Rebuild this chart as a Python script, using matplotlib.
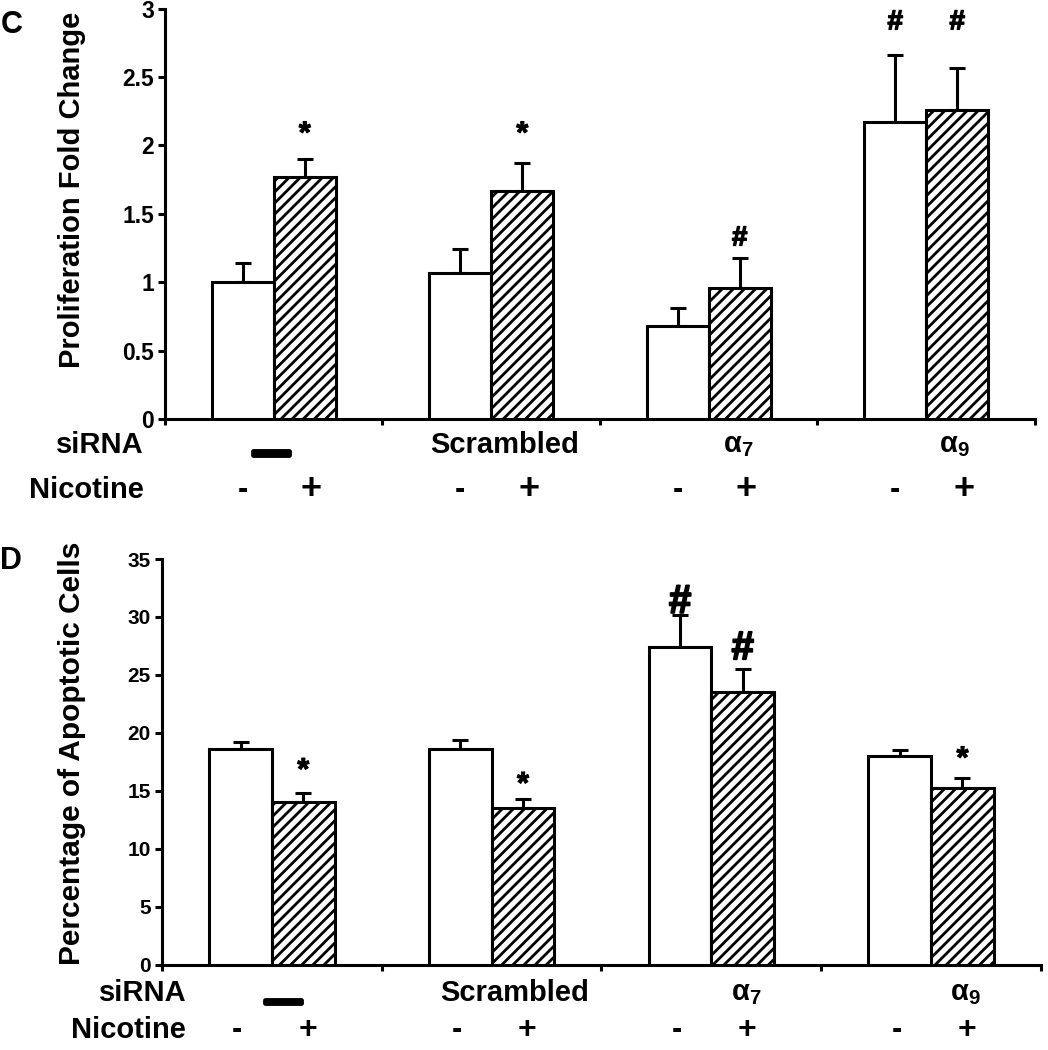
import matplotlib
matplotlib.use("Agg")
import matplotlib.pyplot as plt
import matplotlib.transforms as mtransforms
import matplotlib.patheffects as pe
import numpy as np

# --- Data ---
groups = ["\u2014", "Scrambled", r"$\mathbf{\alpha_7}$", r"$\mathbf{\alpha_9}$"]
nicotine = ["-", "+"]

prolif_ctrl = [1.00, 1.065, 0.68, 2.17]
prolif_ctrl_err = [0.14, 0.175, 0.13, 0.49]
prolif_nic = [1.77, 1.67, 0.955, 2.26]
prolif_nic_err = [0.13, 0.20, 0.225, 0.31]
prolif_marks_ctrl = ["", "", "", "#"]
prolif_marks_nic = ["*", "*", "#", "#"]
prolif_mark_y_ctrl = [None, None, None, 2.9]
prolif_mark_y_nic = [2.08, 2.08, 1.32, 2.9]

apop_ctrl = [18.6, 18.6, 27.4, 18.0]
apop_ctrl_err = [0.6, 0.8, 2.8, 0.5]
apop_nic = [14.0, 13.55, 23.5, 15.2]
apop_nic_err = [0.8, 0.75, 2.0, 0.9]
apop_marks_ctrl = ["", "", "#", ""]
apop_marks_nic = ["*", "*", "#", "*"]
apop_mark_y_ctrl = [None, None, 31.3, None]
apop_mark_y_nic = [16.7, 15.5, 27.3, 17.7]

FONT = ["Liberation Sans", "DejaVu Sans"]
plt.rcParams["font.family"] = FONT
plt.rcParams["font.weight"] = "bold"
plt.rcParams["mathtext.fontset"] = "custom"
plt.rcParams["mathtext.rm"] = "Liberation Sans:bold"
plt.rcParams["mathtext.bf"] = "Liberation Sans:bold"
plt.rcParams["mathtext.it"] = "Liberation Sans:bold"
plt.rcParams["hatch.linewidth"] = 2.0

LW = 2.2
BAR_W = 0.285


def draw_panel(ax, ctrl, ctrl_err, nic, nic_err, marks, mark_ys, ylim, yticks,
               ylabel, tick_size, lab_off, sign_off, row_y, row_x, mark_sizes,
               ylab_size, ylab_pos, plus_size):
    x = np.arange(len(ctrl)) + 0.5
    xc = x - BAR_W / 2
    xn = x + BAR_W / 2
    ax.bar(xc, ctrl, BAR_W, color="white", edgecolor="black", linewidth=LW, zorder=3)
    ax.bar(xn, nic, BAR_W, color="white", edgecolor="black", linewidth=LW,
           hatch="///", zorder=3)
    for xs, vals, errs in [(xc, ctrl, ctrl_err), (xn, nic, nic_err)]:
        ax.errorbar(xs, vals, yerr=[np.zeros(len(vals)), errs], fmt="none",
                    ecolor="black", elinewidth=LW, capsize=5.5, capthick=LW, zorder=2)

    # significance marks
    for xs, mk, my in [(xc, marks[0], mark_ys[0]), (xn, marks[1], mark_ys[1])]:
        for xi, m, yi in zip(xs, mk, my):
            if m:
                size, stroke = mark_sizes[m]
                ax.text(xi, yi, m, ha="center", va="center", fontsize=size,
                        fontweight="bold",
                        path_effects=[pe.withStroke(linewidth=stroke, foreground="black")])

    ax.set_xlim(0, 4)
    ax.set_ylim(*ylim)
    ax.set_yticks(yticks)
    ax.set_yticklabels([f"{t:g}" for t in yticks], fontsize=tick_size, fontweight="bold")
    ax.set_xticks(np.arange(5))
    ax.set_xticklabels([])
    ax.set_ylabel(ylabel, fontsize=ylab_size, fontweight="bold")
    ax.yaxis.set_label_coords(*ylab_pos)
    for s in ["top", "right"]:
        ax.spines[s].set_visible(False)
    for s in ["left", "bottom"]:
        ax.spines[s].set_linewidth(LW)
    ax.tick_params(axis="y", direction="out", length=5, width=LW, pad=3)
    ax.tick_params(axis="x", direction="out", length=4, width=LW)

    # condition rows under the axis
    trans = mtransforms.blended_transform_factory(ax.transData, ax.transAxes)
    ax.text(row_x, row_y[0], "siRNA", transform=trans, ha="right", va="center",
            fontsize=21, fontweight="bold")
    ax.text(row_x, row_y[1], "Nicotine", transform=trans, ha="right", va="center",
            fontsize=21, fontweight="bold")
    for i, g in enumerate(groups):
        if i == 0:
            ax.text(x[i] + lab_off[i], row_y[0] - 0.02, g, transform=trans,
                    ha="center", va="center", fontsize=26, fontweight="bold",
                    path_effects=[pe.withStroke(linewidth=3.5, foreground="black")])
        else:
            ax.text(x[i] + lab_off[i], row_y[0], g, transform=trans,
                    ha="center", va="center", fontsize=21, fontweight="bold")
        ax.text(xc[i] + sign_off[0], row_y[1], nicotine[0], transform=trans,
                ha="center", va="center", fontsize=22, fontweight="bold")
        ax.text(xn[i] + sign_off[1], row_y[1], nicotine[1], transform=trans,
                ha="center", va="center", fontsize=plus_size, fontweight="bold")


fig = plt.figure(figsize=(10.48, 10.5), dpi=100)
ax_c = fig.add_axes([0.1574, 0.601, 0.8302, 0.3907])
ax_d = fig.add_axes([0.1546, 0.0813, 0.8387, 0.3863])

draw_panel(ax_c, prolif_ctrl, prolif_ctrl_err, prolif_nic, prolif_nic_err,
           (prolif_marks_ctrl, prolif_marks_nic),
           (prolif_mark_y_ctrl, prolif_mark_y_nic),
           (0, 3), np.arange(0, 3.01, 0.5), "Proliferation Fold Change", 16.5,
           [-0.013, 0.063, 0.134, 0.128], (0.0, 0.03), (-0.063, -0.173), -0.097,
           {"*": (22, 0.8), "#": (20, 1.0)}, 21, (-0.091, 0.558), 26)

draw_panel(ax_d, apop_ctrl, apop_ctrl_err, apop_nic, apop_nic_err,
           (apop_marks_ctrl, apop_marks_nic),
           (apop_mark_y_ctrl, apop_mark_y_nic),
           (0, 35), np.arange(0, 36, 5), "Percentage of Apoptotic Cells", 15,
           [0.05, 0.105, 0.16, 0.155], (-0.015, 0.02), (-0.071, -0.162), 0.11,
           {"*": (22, 0.8), "#": (29, 1.3)}, 21.5, (-0.0865, 0.52), 23)

fig.text(0.001, 0.976, "C", fontsize=22, fontweight="bold", ha="left", va="center")
fig.text(0.0, 0.466, "D", fontsize=22, fontweight="bold", ha="left", va="center")

fig.savefig("out.png", dpi=100)
